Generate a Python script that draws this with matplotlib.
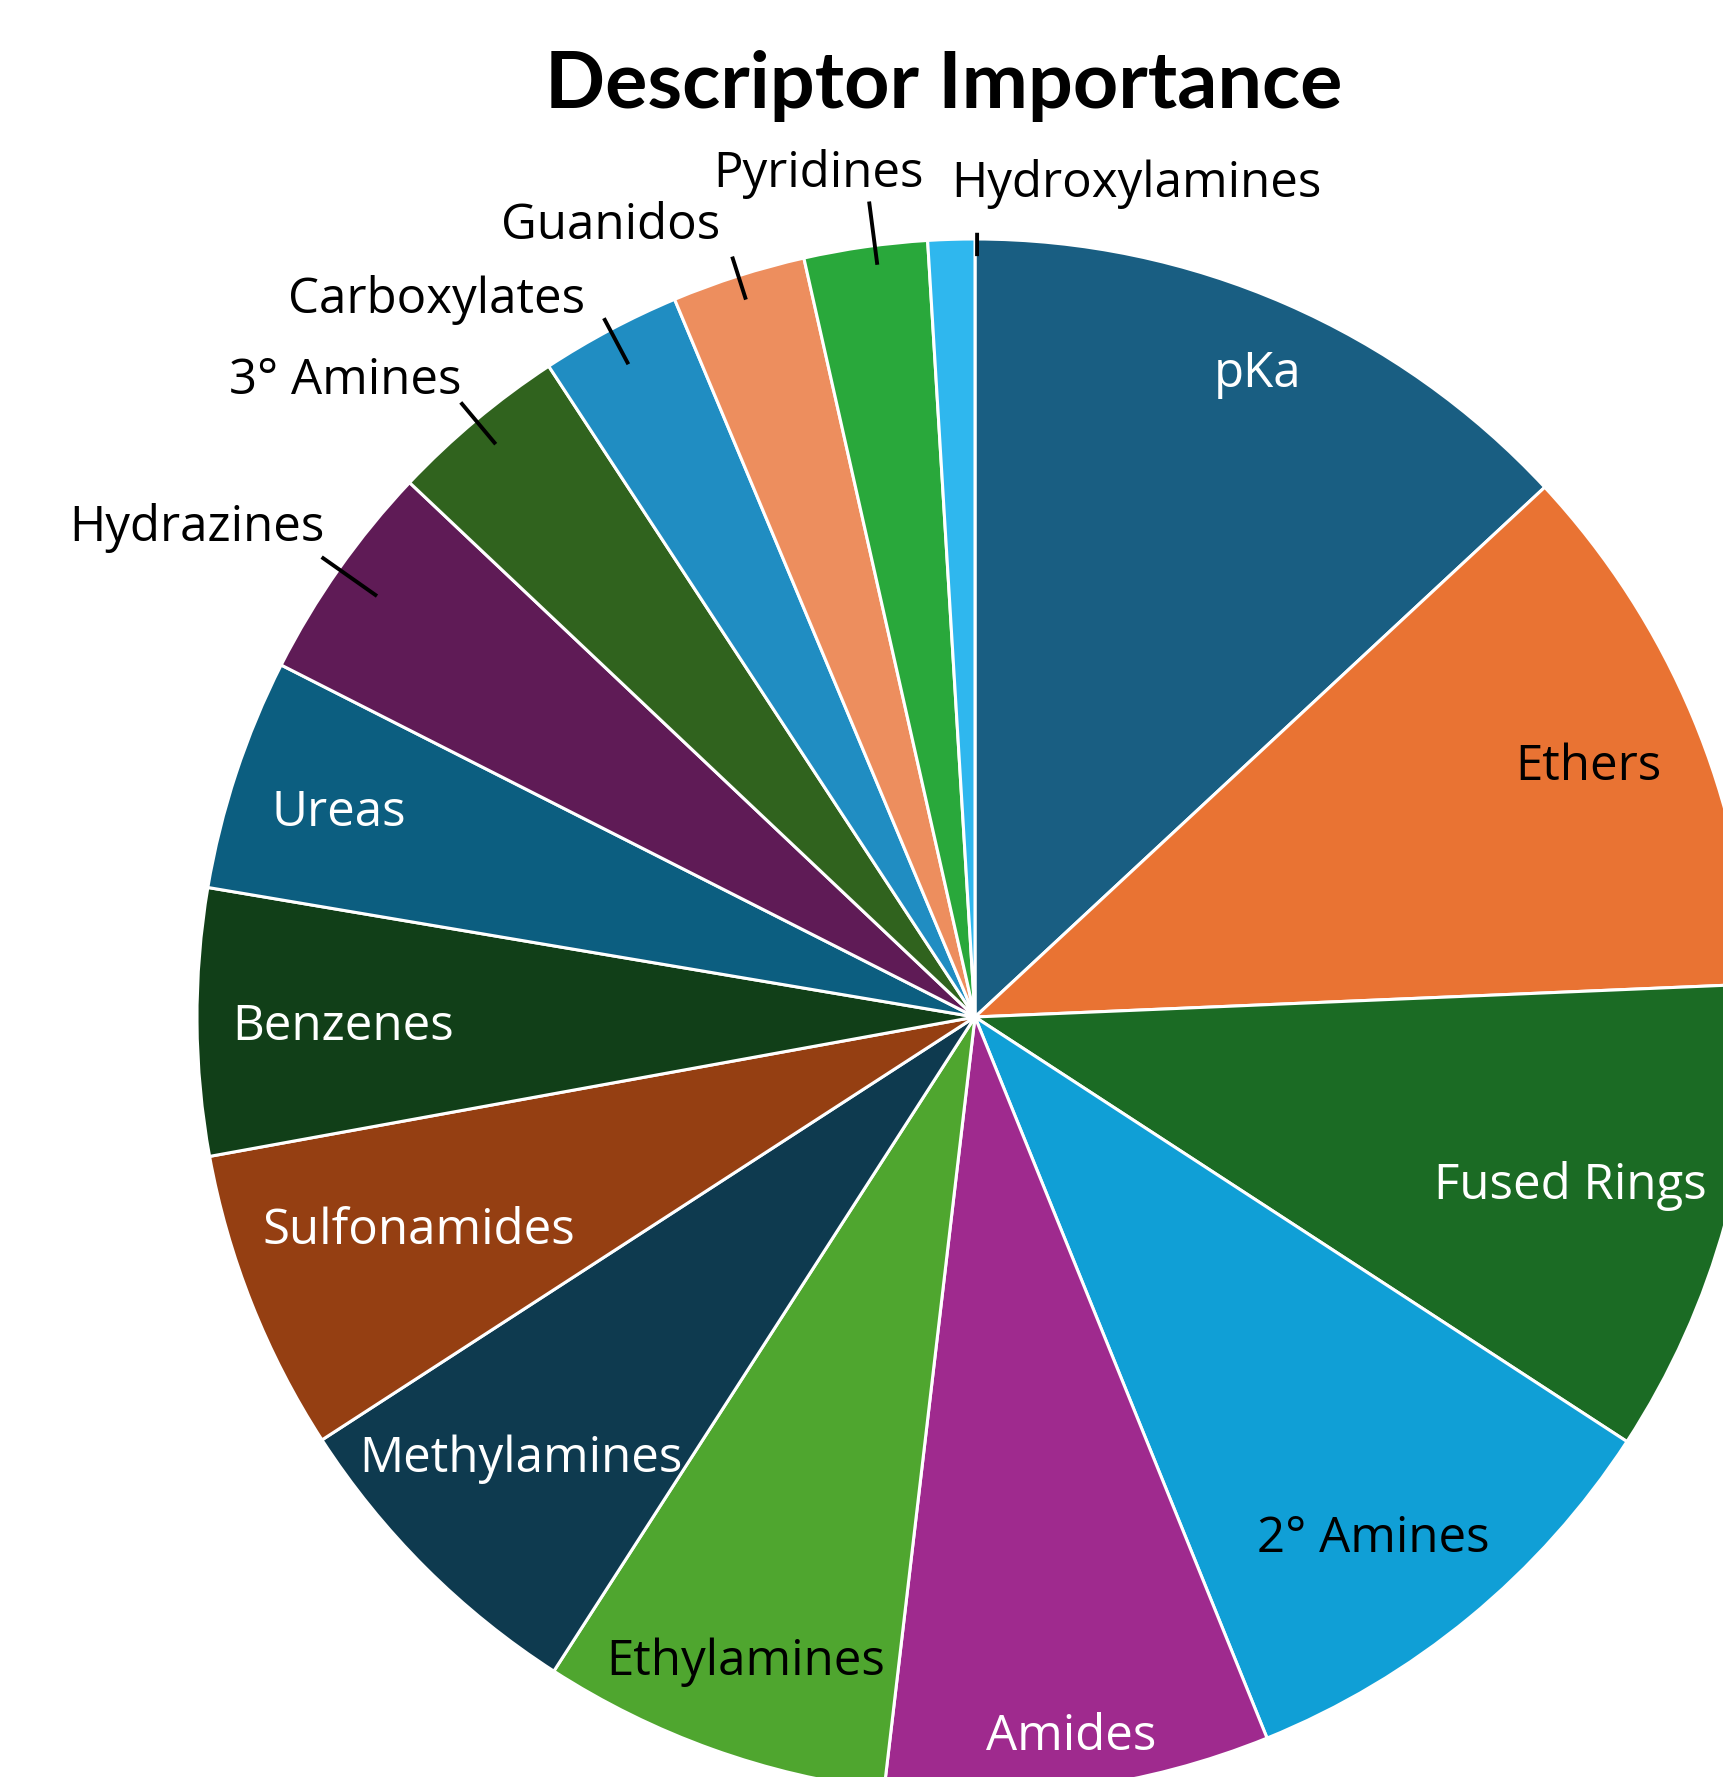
import matplotlib
matplotlib.use('Agg')
import matplotlib.pyplot as plt
import numpy as np

plt.rcParams['font.family'] = ['Open Sans', 'DejaVu Sans']

# ---- data ----
labels = ["pKa", "Ethers", "Fused Rings", "2° Amines", "Amides", "Ethylamines",
          "Methylamines", "Sulfonamides", "Benzenes", "Ureas", "Hydrazines",
          "3° Amines", "Carboxylates", "Guanidos", "Pyridines", "Hydroxylamines"]
values = [13.08, 11.25, 9.86, 9.69, 7.99, 7.24, 6.75, 6.28, 5.53, 4.81, 4.58,
          3.72, 2.92, 2.78, 2.56, 0.97]
colors = ["#195e82", "#e97333", "#1b6b24", "#109fd6", "#9f2a8e", "#4fa62f",
          "#0e3a4f", "#953f12", "#113f18", "#0c5e80", "#5f1b56", "#30631e",
          "#208dc2", "#ed8e5e", "#29a83b", "#2fb7ee"]
title = "Descriptor Importance"

# ---- layout ----
inside_style = {  # label: (radius fraction, text colour, angle shift deg)
    "pKa": (0.91, "white", 0.0), "Ethers": (0.854, "black", 0.0),
    "Fused Rings": (0.793, "white", 0.0), "2° Amines": (0.838, "black", -1.8),
    "Amides": (0.926, "white", 0.0), "Ethylamines": (0.873, "black", 0.0),
    "Methylamines": (0.809, "white", -1.2), "Sulfonamides": (0.763, "white", -1.1),
    "Benzenes": (0.812, "white", 0.0), "Ureas": (0.861, "white", 0.0),
}
outside_style = {  # label: (ha, dx px, dy px, r_in, r_out, angle shift deg)
    "Hydrazines": ("right", 3, 16, 0.94, 1.027, 0.0),
    "3° Amines": ("right", 1, 8, 0.96, 1.03, 0.0),
    "Carboxylates": ("right", -19, 5, 0.95, 1.017, 0.0),
    "Guanidos": ("right", -12, 18, 0.968, 1.026, 0.0),
    "Pyridines": ("center", -51, 15, 0.975, 1.057, -0.7),
    "Hydroxylamines": ("left", -26, 36, 0.978, 1.008, -1.9),
}

W, H = 1723, 1777
fig = plt.figure(figsize=(W / 100, H / 100), dpi=100)
ax = fig.add_axes([0, 0, 1, 1])
cx, cy = 975, H - 1017
R = 778

wedges, _ = ax.pie(values, colors=colors, startangle=90, counterclock=False,
                   center=(cx, cy), radius=R,
                   wedgeprops=dict(edgecolor="white", linewidth=2.2))
ax.set_xlim(0, W)
ax.set_ylim(0, H)
ax.set_aspect("equal")
ax.axis("off")

FS = 35.5
for w, lab in zip(wedges, labels):
    mid = (w.theta1 + w.theta2) / 2
    if lab in inside_style:
        rf, tc, shift = inside_style[lab]
        ang = np.deg2rad(mid + shift)
        ax.text(cx + rf * R * np.cos(ang), cy + rf * R * np.sin(ang), lab,
                ha="center", va="center_baseline", fontsize=FS, color=tc)
    else:
        ha, dx, dy, ri, ro, shift = outside_style[lab]
        ang = np.deg2rad(mid + shift)
        x0, y0 = cx + ri * R * np.cos(ang), cy + ri * R * np.sin(ang)
        x1, y1 = cx + ro * R * np.cos(ang), cy + ro * R * np.sin(ang)
        ax.plot([x0, x1], [y0, y1], color="black", lw=2.8, solid_capstyle="butt")
        ax.text(x1 + dx, y1 + dy, lab, ha=ha, va="baseline", fontsize=FS,
                color="black")

ax.text(944, H - 108, title, ha="center", va="baseline", fontsize=57,
        fontweight="bold", color="black", family=["Lato", "DejaVu Sans"])

fig.savefig("out.png", dpi=100)
